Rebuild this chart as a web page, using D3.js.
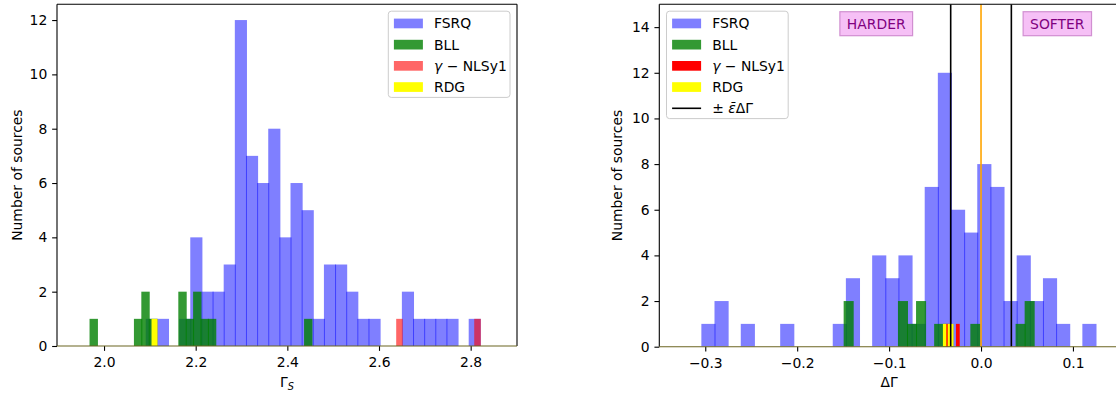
<!DOCTYPE html>
<html>
<head>
<meta charset="utf-8">
<script src="https://cdn.jsdelivr.net/npm/d3@7"></script>
<style>
  body { margin: 0; background: #fff; }
  svg { display: block; font-family: "DejaVu Sans", sans-serif; }
</style>
</head>
<body>
<svg id="chart" width="1116" height="394"></svg>
<script>
// ---------- Left panel: photon index Γ_S ----------
const gsXTicks = [2.0, 2.2, 2.4, 2.6, 2.8];
const gsYTicks = [0, 2, 4, 6, 8, 10, 12];
// each histogram: first bin edge, bin width, counts per bin
const gsFsrqStart = 2.0921, gsFsrqWidth = 0.02430;
const gsFsrqCounts = [1, 1, 0, 1, 4, 2, 2, 3, 12, 7, 6, 8, 4, 6, 5, 1, 3, 3, 2, 1, 1, 0, 0, 2, 1, 1, 1, 1, 0, 1];
const gsBllStart = 1.9695, gsBllWidth = 0.01614;
const gsBllCounts = [1, 0, 0, 0, 0, 0, 1, 2, 1, 0, 0, 0, 2, 1, 2, 1, 1, 0, 0, 0, 0, 0, 0, 0, 0, 0, 0, 0, 0, 1];
const gsNlsStart = 2.6386, gsNlsWidth = 0.01216;
const gsNlsCounts = [1, 0, 0, 0, 0, 0, 0, 0, 0, 0, 0, 0, 0, 0, 1];
const gsRdgStart = 2.1047, gsRdgWidth = 0.0111;
const gsRdgCounts = [1];

// ---------- Right panel: index shift ΔΓ ----------
const dgXTicks = [-0.3, -0.2, -0.1, 0.0, 0.1];
const dgYTicks = [0, 2, 4, 6, 8, 10, 12, 14];
const dgFsrqStart = -0.3037, dgFsrqWidth = 0.014293;
const dgFsrqCounts = [1, 2, 0, 1, 0, 0, 1, 0, 0, 0, 1, 3, 0, 4, 3, 4, 1, 7, 12, 6, 5, 8, 7, 2, 4, 2, 3, 1, 0, 1];
const dgBllStart = -0.1489, dgBllWidth = 0.009845;
const dgBllCounts = [2, 0, 0, 0, 0, 0, 2, 1, 2, 0, 1, 1, 0, 0, 1, 0, 0, 0, 0, 1, 2];
const dgNlsStart = -0.03873, dgNlsWidth = 0.0030;
const dgNlsCounts = [1, 0, 0, 0, 1];
const dgRdgStart = -0.04091, dgRdgWidth = 0.00261;
const dgRdgCounts = [1, 0, 1, 1];
const dgZero = 0.0;        // no-shift reference
const dgEpsilon = 0.033;   // ± mean uncertainty band
const dgRegionLabels = ["HARDER", "SOFTER"];
const dgRegionX = [-0.114, 0.083];
const dgRegionY = 14.15;

const legendLeft = ["FSRQ", "BLL", "γ−NLSy1", "RDG"];
const legendRight = ["FSRQ", "BLL", "γ−NLSy1", "RDG", "±ε̄ΔΓ"];

const FS = 13.9;      // 10 pt
const TICK = 4.86;    // 3.5 pt
const svg = d3.select("#chart");

function panel(cfg) {
  const g = svg.append("g");
  const x = d3.scaleLinear().domain(cfg.xDomain).range([cfg.left, cfg.right]);
  const y = d3.scaleLinear().domain(cfg.yDomain).range([cfg.bottom, cfg.top]);
  const clipId = "clip" + cfg.id;
  svg.append("clipPath").attr("id", clipId).append("rect")
    .attr("x", cfg.left).attr("y", cfg.top)
    .attr("width", cfg.right - cfg.left).attr("height", cfg.bottom - cfg.top);
  const plot = g.append("g").attr("clip-path", `url(#${clipId})`);

  function hist(start, width, counts, color, opacity) {
    const bins = counts.map((c, i) => ({ x0: start + i * width, x1: start + (i + 1) * width, c }))
      .filter(d => d.c > 0);
    plot.append("g").selectAll("rect").data(bins).join("rect")
      .attr("x", d => x(d.x0) - 0.5)
      .attr("width", d => x(d.x1) - x(d.x0) + 1)
      .attr("y", d => y(d.c))
      .attr("height", d => y(0) - y(d.c))
      .attr("fill", color).attr("fill-opacity", opacity);
  }
  cfg.hists.forEach(h => hist(...h));

  (cfg.vlines || []).forEach(v => {
    plot.append("line").attr("x1", x(v.x)).attr("x2", x(v.x))
      .attr("y1", cfg.top).attr("y2", cfg.bottom)
      .attr("stroke", v.color).attr("stroke-width", 1.6);
  });

  // axes
  const xa = g.append("g").attr("transform", `translate(0,${cfg.bottom})`)
    .call(d3.axisBottom(x).tickValues(cfg.xTicks).tickFormat(d3.format(".1f"))
      .tickSize(TICK).tickPadding(TICK + 1.3));
  const ya = g.append("g").attr("transform", `translate(${cfg.left},0)`)
    .call(d3.axisLeft(y).tickValues(cfg.yTicks).tickFormat(d3.format("d"))
      .tickSize(TICK).tickPadding(TICK));
  [xa, ya].forEach(a => {
    a.select(".domain").remove();
    a.selectAll("line").attr("stroke", "#000").attr("stroke-width", 1.1);
    a.selectAll("text").attr("font-size", FS).attr("fill", "#000")
      .attr("font-family", "DejaVu Sans");
  });

  // frame
  const fr = g.append("g").attr("fill", "none").attr("stroke-width", 1.1);
  fr.append("line").attr("x1", cfg.left).attr("x2", cfg.right).attr("y1", cfg.top).attr("y2", cfg.top).attr("stroke", "#000");
  fr.append("line").attr("x1", cfg.left).attr("x2", cfg.left).attr("y1", cfg.top).attr("y2", cfg.bottom).attr("stroke", "#000");
  fr.append("line").attr("x1", cfg.right).attr("x2", cfg.right).attr("y1", cfg.top).attr("y2", cfg.bottom).attr("stroke", "#000");
  fr.append("line").attr("x1", cfg.left).attr("x2", cfg.right).attr("y1", cfg.bottom).attr("y2", cfg.bottom).attr("stroke", "#6b6420");

  // y label
  g.append("text").attr("transform", `translate(${cfg.yLabelX},${(cfg.top + cfg.bottom) / 2}) rotate(-90)`)
    .attr("text-anchor", "middle").attr("font-size", FS).text("Number of sources");

  return { g, x, y };
}

function legend(g, bx, by, w, entries) {
  const h = 12.3 * 2 + 21.2 * (entries.length - 1) - 2;
  const lg = g.append("g");
  lg.append("rect").attr("x", bx).attr("y", by).attr("width", w).attr("height", h)
    .attr("rx", 3).attr("fill", "#fff").attr("fill-opacity", 0.8)
    .attr("stroke", "#cccccc").attr("stroke-width", 1);
  entries.forEach((e, i) => {
    const cy = by + 12.3 + i * 21.2;
    if (e.line) {
      lg.append("line").attr("x1", bx + 5.6).attr("x2", bx + 34.6).attr("y1", cy).attr("y2", cy)
        .attr("stroke", e.color).attr("stroke-width", 1.6);
    } else {
      lg.append("rect").attr("x", bx + 5.6).attr("y", cy - 4.9).attr("width", 29).attr("height", 9.7)
        .attr("fill", e.color).attr("fill-opacity", e.opacity);
    }
    const t = lg.append("text").attr("x", bx + 45.7).attr("y", cy).attr("dy", "0.35em")
      .attr("font-size", FS);
    e.label(t);
  });
}

const plainLabel = s => t => t.text(s);
const nlsLabel = t => {
  t.append("tspan").attr("font-style", "italic").text("γ");
  t.append("tspan").text(" − ");
  t.append("tspan").text("NLSy1");
};
const epsLabel = t => {
  t.append("tspan").text("± ");
  t.append("tspan").attr("font-style", "italic").text("ε̄");
  t.append("tspan").text("ΔΓ");
};

// ----- left -----
const L = panel({
  id: "L", left: 57, right: 517, top: 4.3, bottom: 346,
  xDomain: [1.8974, 2.9011], yDomain: [0, 12.58],
  xTicks: gsXTicks, yTicks: gsYTicks, yLabelX: 21.5,
  hists: [
    [gsFsrqStart, gsFsrqWidth, gsFsrqCounts, "blue", 0.5],
    [gsBllStart, gsBllWidth, gsBllCounts, "green", 0.8],
    [gsNlsStart, gsNlsWidth, gsNlsCounts, "red", 0.6],
    [gsRdgStart, gsRdgWidth, gsRdgCounts, "yellow", 1]
  ]
});
const gx = L.g.append("text").attr("x", 287).attr("y", 386.5).attr("text-anchor", "middle").attr("font-size", FS);
gx.append("tspan").text("Γ");
gx.append("tspan").attr("font-style", "italic").attr("font-size", FS * 0.7).attr("dy", 3).text("S");
legend(L.g, 388.3, 11.2, 121.7, [
  { color: "blue", opacity: 0.5, label: plainLabel(legendLeft[0]) },
  { color: "green", opacity: 0.8, label: plainLabel(legendLeft[1]) },
  { color: "red", opacity: 0.6, label: nlsLabel },
  { color: "yellow", opacity: 1, label: plainLabel(legendLeft[3]) }
]);

// ----- right -----
const R = panel({
  id: "R", left: 659.3, right: 1118.9, top: 4.3, bottom: 346.7,
  xDomain: [-0.35, 0.15], yDomain: [0, 15],
  xTicks: dgXTicks, yTicks: dgYTicks, yLabelX: 622,
  hists: [
    [dgFsrqStart, dgFsrqWidth, dgFsrqCounts, "blue", 0.5],
    [dgBllStart, dgBllWidth, dgBllCounts, "green", 0.8],
    [dgNlsStart, dgNlsWidth, dgNlsCounts, "red", 1],
    [dgRdgStart, dgRdgWidth, dgRdgCounts, "yellow", 1]
  ],
  vlines: [
    { x: dgZero, color: "orange" },
    { x: -dgEpsilon, color: "#000" },
    { x: dgEpsilon, color: "#000" }
  ]
});
R.g.append("text").attr("x", 889).attr("y", 386.5).attr("text-anchor", "middle").attr("font-size", FS).text("ΔΓ");
legend(R.g, 666.5, 11.2, 121.7, [
  { color: "blue", opacity: 0.5, label: plainLabel(legendRight[0]) },
  { color: "green", opacity: 0.8, label: plainLabel(legendRight[1]) },
  { color: "red", opacity: 1, label: nlsLabel },
  { color: "yellow", opacity: 1, label: plainLabel(legendRight[3]) },
  { color: "#000", line: true, label: epsLabel }
]);

// HARDER / SOFTER tags
dgRegionLabels.forEach((s, i) => {
  const cx = R.x(dgRegionX[i]), cy = R.y(dgRegionY);
  const tg = R.g.append("g");
  const t = tg.append("text").attr("x", cx).attr("y", cy).attr("dy", "0.36em")
    .attr("text-anchor", "middle").attr("font-size", FS).attr("fill", "purple").text(s);
  const w = t.node().getComputedTextLength();
  tg.insert("rect", "text").attr("x", cx - w / 2 - 7).attr("y", cy - 12)
    .attr("width", w + 14).attr("height", 24)
    .attr("fill", "violet").attr("fill-opacity", 0.5)
    .attr("stroke", "#c77cc7").attr("stroke-opacity", 0.8).attr("stroke-width", 1.2);
});
</script>
</body>
</html>
